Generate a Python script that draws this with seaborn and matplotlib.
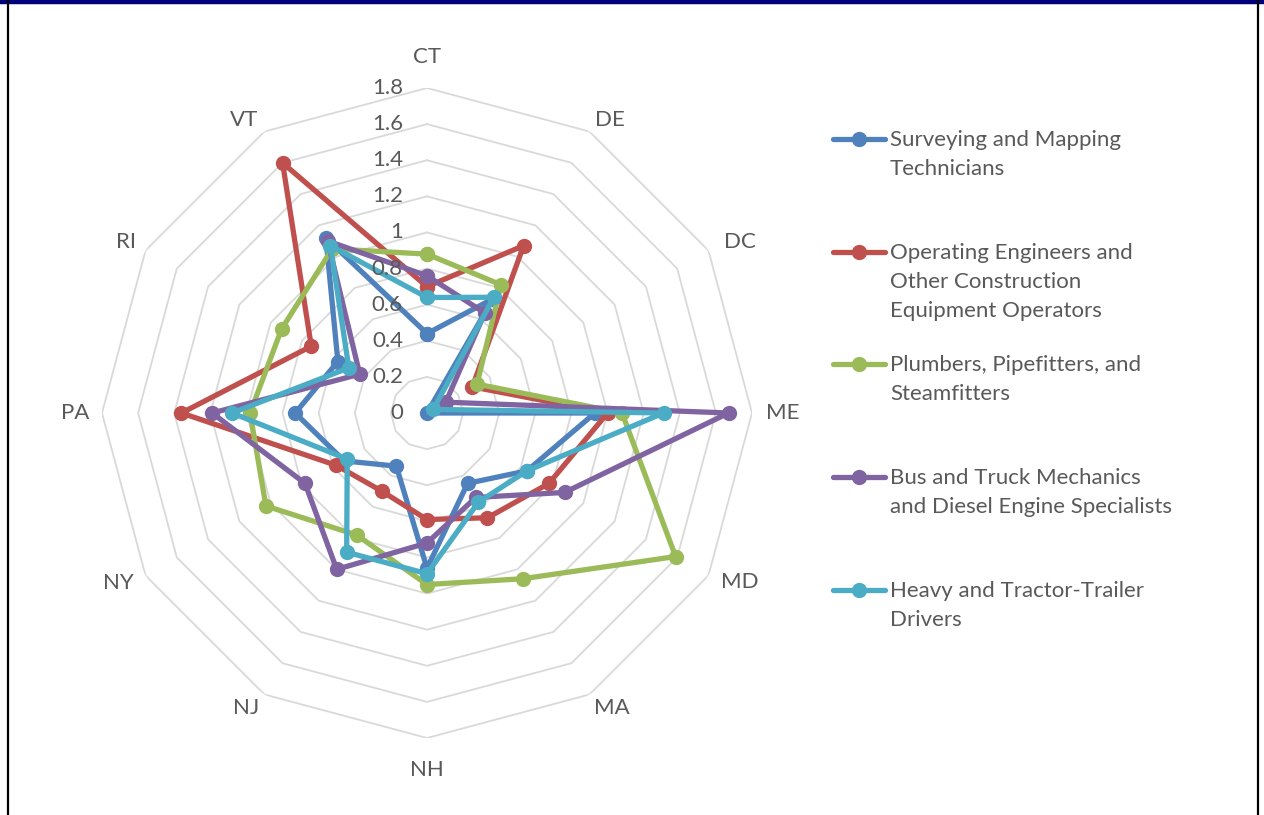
import numpy as np
import pandas as pd
import matplotlib
matplotlib.use("Agg")
import matplotlib.pyplot as plt
from matplotlib.transforms import offset_copy
import seaborn as sns

# ---------------- data ----------------
categories = ["CT", "DE", "DC", "ME", "MD", "MA", "NH", "NJ", "NY", "PA", "RI", "VT"]
series_names = [
    "Surveying and Mapping\nTechnicians",
    "Operating Engineers and\nOther Construction\nEquipment Operators",
    "Plumbers, Pipefitters, and\nSteamfitters",
    "Bus and Truck Mechanics\nand Diesel Engine Specialists",
    "Heavy and Tractor-Trailer\nDrivers",
]
surveying = [0.44, 0.73, 0.00, 0.93, 0.64, 0.45, 0.86, 0.34, 0.53, 0.73, 0.57, 1.12]
operating = [0.70, 1.07, 0.29, 1.00, 0.78, 0.67, 0.59, 0.50, 0.58, 1.36, 0.74, 1.60]
plumbers = [0.88, 0.82, 0.32, 1.08, 1.59, 1.06, 0.95, 0.78, 1.03, 0.98, 0.93, 1.05]
mechanics = [0.76, 0.64, 0.12, 1.67, 0.88, 0.54, 0.72, 1.00, 0.78, 1.19, 0.43, 1.10]
drivers = [0.64, 0.74, 0.04, 1.31, 0.64, 0.57, 0.89, 0.89, 0.51, 1.08, 0.50, 1.07]
tick_values = [0, 0.2, 0.4, 0.6, 0.8, 1.0, 1.2, 1.4, 1.6, 1.8]
tick_labels = ["0", "0.2", "0.4", "0.6", "0.8", "1", "1.2", "1.4", "1.6", "1.8"]

# layout: category label offsets (pixels) from the outer grid vertex
label_offsets = [(0, 31), (20, 12), (31, 8), (31, 0), (31, -7), (22, -14),
                 (0, -32), (-18, -14), (-27, -7), (-27, 0), (-20, 8), (-20, 12)]

colors = ["#4F81BD", "#C0504D", "#9BBB59", "#8064A2", "#4BACC6"]
TEXT = "#595959"
GRID = "#D9D9D9"

# ---------------- styling ----------------
sns.set_theme(style="white")
plt.rcParams["font.family"] = ["Lato", "DejaVu Sans"]
FS = 16

W, H = 1264, 815
fig = plt.figure(figsize=(W / 100, H / 100), dpi=100)
fig.patch.set_facecolor("white")

cx, cy, R = 427, 413, 325
ax = fig.add_axes([(cx - R) / W, (H - cy - R) / H, 2 * R / W, 2 * R / H], projection="polar")
ax.set_theta_zero_location("N")
ax.set_theta_direction(-1)
ax.patch.set_alpha(0)

n = len(categories)
theta = np.arange(n) * 2 * np.pi / n
theta_closed = np.append(theta, 2 * np.pi)

# polygonal gridlines
for lvl in tick_values[1:]:
    ax.plot(theta_closed, [lvl] * (n + 1), color=GRID, lw=1.3, zorder=0)

# long-form data
all_vals = [surveying, operating, plumbers, mechanics, drivers]
rows = []
for name, vals in zip(series_names, all_vals):
    closed = list(vals) + [vals[0]]
    for i, (t, v) in enumerate(zip(theta_closed, closed)):
        rows.append({"series": name, "order": i, "theta": t, "value": v})
df = pd.DataFrame(rows)

sns.lineplot(
    data=df, x="theta", y="value", hue="series", hue_order=series_names,
    palette=colors, sort=False, estimator=None, legend=False, ax=ax,
    marker="o", markersize=11, markeredgewidth=0, linewidth=3.8, zorder=3,
)
ax.set_xlabel("")
ax.set_ylabel("")
ax.set_ylim(0, 1.8)
ax.grid(False)
ax.spines["polar"].set_visible(False)
ax.set_xticks([])
ax.set_yticks([])

# radial value labels
tr = offset_copy(ax.transData, fig=fig, x=-24, y=0, units="dots")
for v, lab in zip(tick_values, tick_labels):
    ax.text(0, v, lab, transform=tr, ha="right", va="center", color=TEXT, fontsize=FS)

# category labels
for t, c, (dx, dy) in zip(theta, categories, label_offsets):
    trc = offset_copy(ax.transData, fig=fig, x=dx, y=dy, units="dots")
    ax.text(t, tick_values[-1], c, transform=trc, ha="center", va="center",
            color=TEXT, fontsize=FS)

# ---------------- overlay: legend + frame ----------------
ov = fig.add_axes([0, 0, 1, 1])
ov.set_xlim(0, W)
ov.set_ylim(H, 0)
ov.axis("off")
ov.patch.set_alpha(0)

leg_y = [139, 252, 364, 477, 590]
for name, col, y0 in zip(series_names, colors, leg_y):
    ov.plot([833, 885], [y0, y0], color=col, lw=3.8, solid_capstyle="round")
    ov.plot([859], [y0], marker="o", markersize=11, color=col, markeredgewidth=0)
    for k, line in enumerate(name.split("\n")):
        ov.text(890, y0 + 1 + 29 * k, line, ha="left", va="center", color=TEXT, fontsize=FS)

# frame
ov.plot([0, W], [1.5, 1.5], color="#00007A", lw=3.2, solid_capstyle="butt")
ov.plot([7.5, 7.5], [0, H], color="black", lw=1.6)
ov.plot([1257.5, 1257.5], [0, H], color="black", lw=1.6)

fig.savefig("out.png", dpi=100, facecolor="white")
